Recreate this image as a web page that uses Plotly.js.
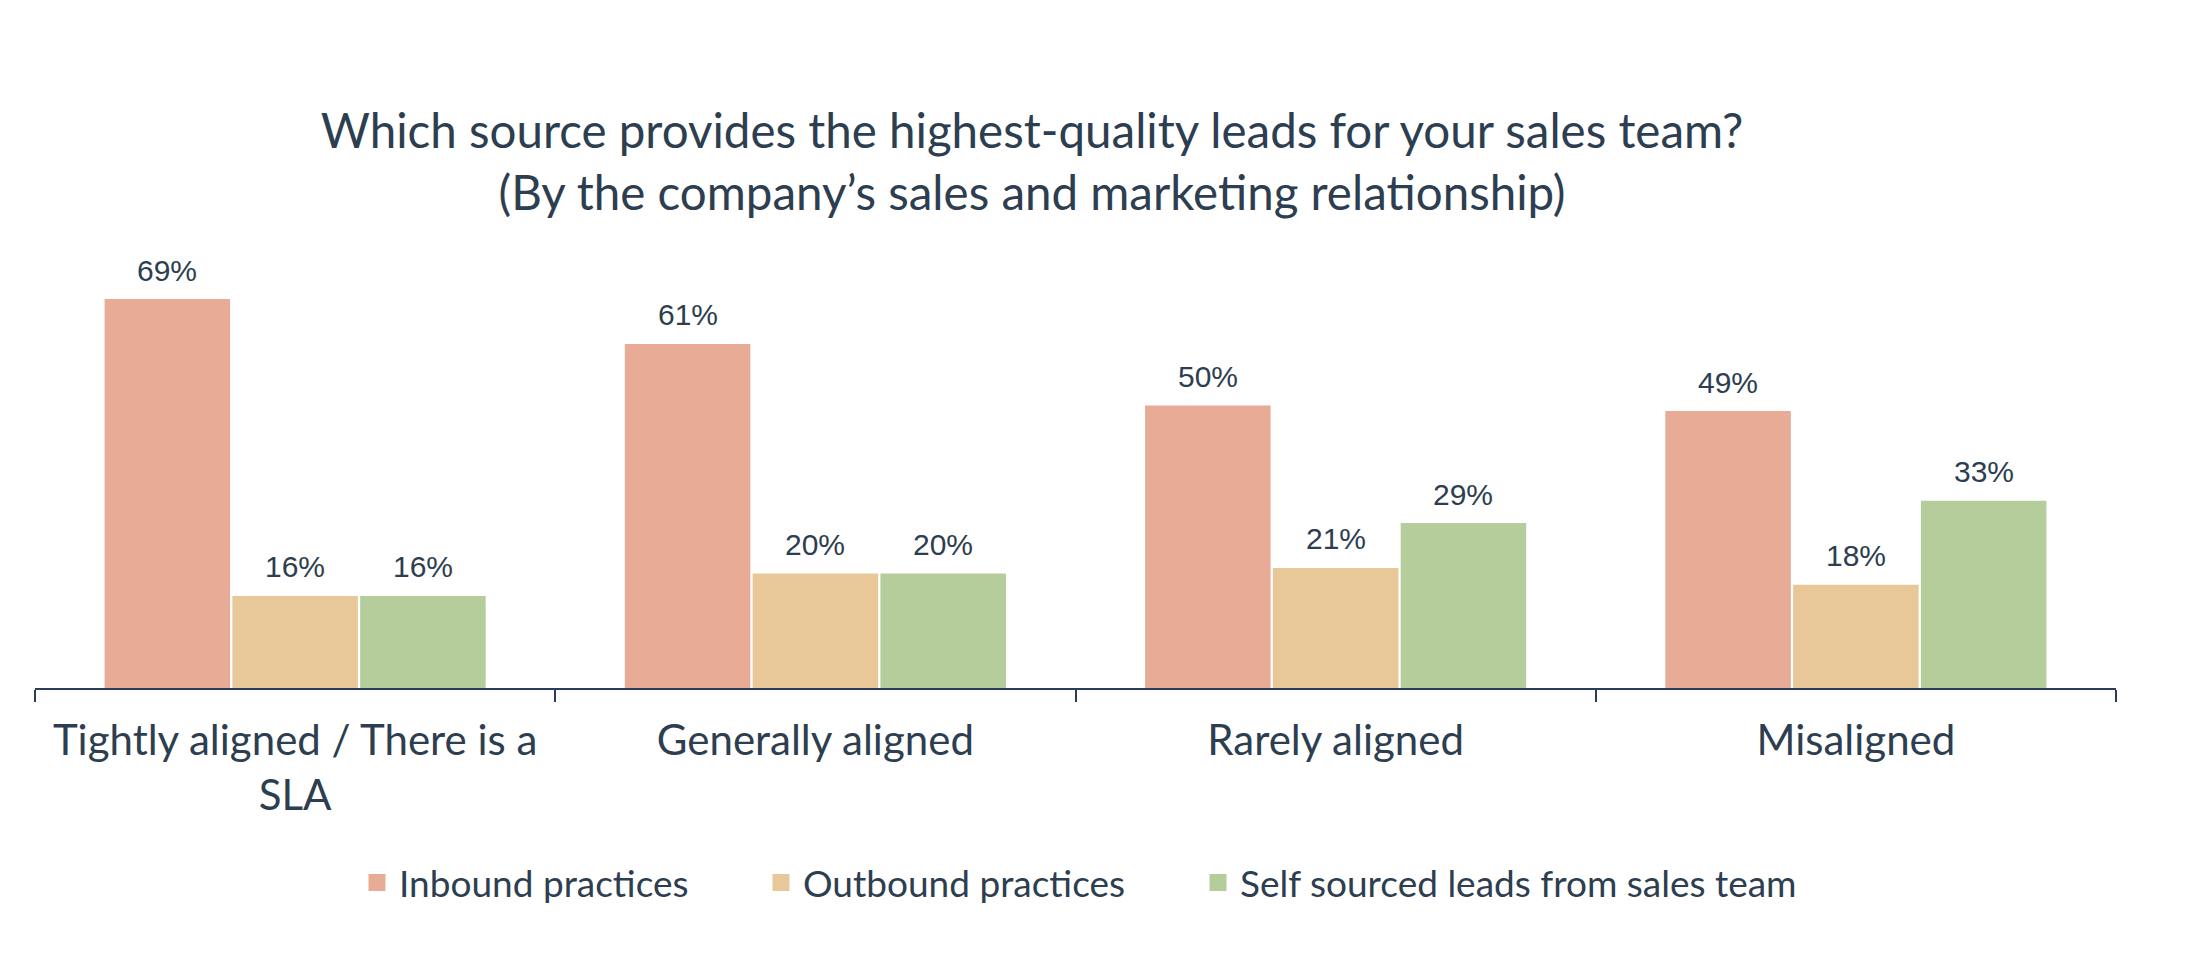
<!DOCTYPE html>
<html>
<head>
<meta charset="utf-8">
<script src="https://cdn.plot.ly/plotly-3.0.1.min.js"></script>
<style>html,body{margin:0;padding:0;background:#fff;}#chart{width:2186px;height:960px;}</style>
</head>
<body>
<div id="chart"></div>
<script>
var categories = ['Tightly aligned / There is a<br>SLA', 'Generally aligned', 'Rarely aligned', 'Misaligned'];
var seriesNames = ['Inbound practices', 'Outbound practices', 'Self sourced leads from sales team'];
var inbound = [69, 61, 50, 49];
var outbound = [16, 20, 21, 18];
var selfSourced = [16, 20, 29, 33];
var seriesValues = [inbound, outbound, selfSourced];
var seriesColors = ['#e8ab96', '#e8c899', '#b4cd9b'];

var textColor = '#2d3e50';
var lineColor = '#2b3d5b';
var BARGAP = 0.263;
var GROUPGAP = 0.057;
var slot = (1 - BARGAP) / seriesNames.length;

var legendIds = ['legend', 'legend2', 'legend3'];
var traces = seriesNames.map(function (name, s) {
  return {
    type: 'bar',
    name: name,
    x: categories,
    y: seriesValues[s],
    legend: legendIds[s],
    marker: {color: seriesColors[s], line: {color: seriesColors[s], width: 5}},
    hoverinfo: 'skip',
    cliponaxis: true
  };
});

var annotations = [];
seriesValues.forEach(function (vals, s) {
  vals.forEach(function (v, i) {
    annotations.push({
      x: i + (s - (seriesNames.length - 1) / 2) * slot,
      y: v,
      xref: 'x', yref: 'y',
      text: v + '%',
      showarrow: false,
      xanchor: 'center', yanchor: 'bottom',
      yshift: 13,
      font: {family: 'Liberation Sans, Arial, sans-serif', size: 30, color: textColor}
    });
  });
});

var legendFont = {family: 'Lato, sans-serif', size: 37, color: textColor};
function mkLegend(xpx) {
  return {
    orientation: 'h', xref: 'container', yref: 'container',
    x: xpx / 2186, xanchor: 'left',
    y: 1 - 883 / 960, yanchor: 'middle',
    font: legendFont, itemwidth: 34, bgcolor: 'rgba(0,0,0,0)', borderwidth: 0
  };
}

var layout = {
  width: 2186, height: 960,
  paper_bgcolor: '#ffffff', plot_bgcolor: '#ffffff',
  margin: {l: 35, r: 70, t: 240, b: 272, pad: 0},
  barmode: 'group', bargap: BARGAP, bargroupgap: GROUPGAP,
  title: {
    text: 'Which source provides the highest-quality leads for your sales team?<br>(By the company\u2019s sales and marketing relationship)',
    font: {family: 'Lato, sans-serif', size: 47.5, color: textColor},
    xref: 'container', x: 1032 / 2186, xanchor: 'center',
    yref: 'container', y: 1 - 148 / 960, yanchor: 'top'
  },
  xaxis: {
    type: 'category',
    showline: true, linecolor: lineColor, linewidth: 2,
    ticks: 'outside', tickson: 'boundaries', ticklen: 12, tickwidth: 2, tickcolor: lineColor,
    ticklabelstandoff: 15,
    tickfont: {family: 'Lato, sans-serif', size: 42, color: textColor},
    showgrid: false, zeroline: false, fixedrange: true
  },
  yaxis: {range: [0, 80], visible: false, showgrid: false, zeroline: false, fixedrange: true},
  legend: mkLegend(355),
  legend2: mkLegend(759),
  legend3: mkLegend(1196),
  annotations: annotations,
  showlegend: true
};

Plotly.newPlot('chart', traces, layout, {displayModeBar: false, staticPlot: true});
</script>
</body>
</html>
